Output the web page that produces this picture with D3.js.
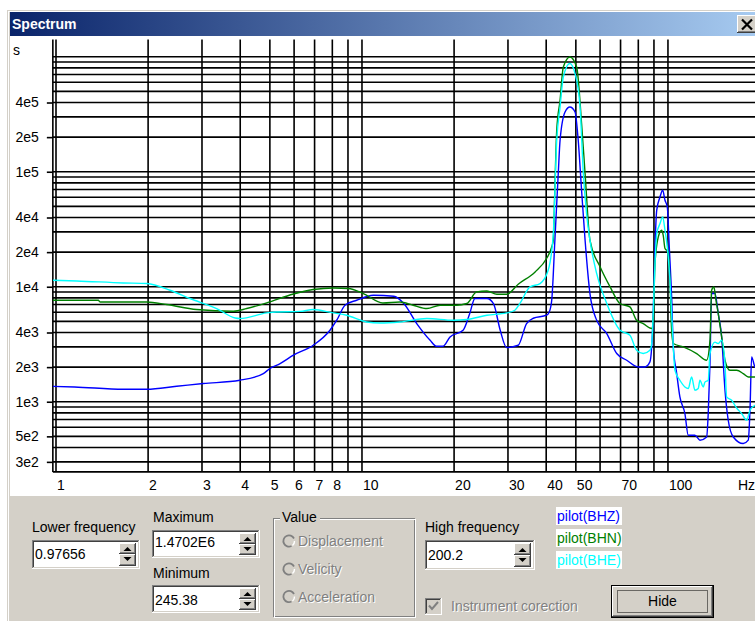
<!DOCTYPE html>
<html>
<head>
<meta charset="utf-8">
<script src="https://cdn.jsdelivr.net/npm/d3@7"></script>
<style>
  html, body { margin: 0; padding: 0; background: #fff; overflow: hidden; }
  svg { display: block; }
  text { font-family: "Liberation Sans", Arial, sans-serif; }
</style>
</head>
<body>
<svg id="win" width="755" height="621"></svg>
<script>
// ---- spectrum data: [frequency Hz, amplitude] per channel ----
const bhz = [[0.97656,1360],[1.15,1345],[1.66,1285],[1.98,1285],[2.48,1364],[3.03,1440],[3.99,1538],[4.76,1759],[5.0,1944],[5.4,2149],[5.97,2540],[6.93,3100],[7.86,4184],[8.27,5113],[8.8,6905],[9.61,7633],[10.9,8435],[12.7,8270],[13.7,7145],[15.1,4786],[16.7,3425],[17.5,3038],[18.4,3038],[19.4,3660],[21.4,4184],[22.5,5848],[23.4,7898],[25.6,7898],[26.9,7145],[28.3,4184],[29.7,2960],[32.4,3099],[34.5,4786],[36.3,5320],[40.1,5652],[40.9,6000],[41.7,7633],[42.7,25400],[43.8,96400],[44.4,188000],[46.1,331000],[47.8,366000],[49.7,331000],[50.9,188000],[52.2,69100],[53.6,25400],[55.6,8727],[58.5,5113],[63.1,3917],[68.0,2625],[73.3,2296],[80.0,2007],[84.1,2007],[87.3,2219],[89.5,5848],[90.7,22200],[91.9,46300],[94.2,60400],[96.1,69100],[97.8,56500],[99.5,49400],[101.0,22200],[102.8,8155],[104.1,2995],[106.8,1759],[109.4,1101],[113.6,790],[116.5,511],[122.5,511],[127.2,463],[133.8,494],[135.4,790],[137.2,2149],[138.9,8727],[142.4,8727],[146.0,5848],[149.8,3660],[153.6,1259],[157.4,690],[163.5,494],[176.2,433],[183.0,463],[185.4,844],[187.7,2452],[192.5,2007],[200.2,1900]];

const bhn = [[0.97656,7633],[1.375,7633],[1.393,7377],[1.98,7377],[2.30,7003],[2.88,6334],[3.80,6124],[4.20,6462],[4.88,7231],[5.97,8650],[6.93,9455],[8.06,9760],[9.02,9645],[10.1,8727],[11.7,7231],[13.3,7377],[14.7,6905],[16.3,6462],[18.0,6905],[20.4,6905],[22.0,7145],[23.7,9012],[25.6,9194],[27.6,8606],[29.7,8606],[32.4,10510],[36.8,13450],[40.1,17600],[41.7,22200],[42.2,25400],[42.7,73800],[43.3,230000],[44.4,418000],[45.5,815000],[47.8,996000],[50.3,815000],[52.2,263000],[53.6,96400],[55.6,25400],[60.0,14900],[64.7,9960],[69.7,7145],[75.1,6673],[79.0,5113],[83.0,4786],[88.5,4330],[89.5,5113],[90.7,15900],[93.0,27100],[95.4,31000],[96.5,28000],[97.8,21500],[100.2,20100],[101.5,11390],[102.8,4184],[104.1,3207],[112.2,2995],[124.1,2625],[133.8,2296],[137.2,3425],[138.9,9324],[141.3,9960],[143.5,7633],[146.0,5848],[149.8,3660],[153.6,2296],[159.4,1879],[167.7,1879],[176.2,1759],[183.0,1643],[192.5,1643],[200.2,1600]];

const bhe = [[0.97656,11390],[1.17,11230],[1.66,10790],[1.98,10660],[2.36,9324],[2.74,7898],[3.35,6462],[3.85,5354],[3.99,5300],[4.88,5919],[5.26,6038],[6.27,6100],[6.93,6334],[8.06,5919],[8.91,5652],[10.36,4942],[11.45,4844],[13.3,4942],[16.3,5290],[19.9,5113],[22.0,5185],[25.6,5652],[29.7,5919],[31.6,6246],[32.8,7145],[35.4,9960],[38.2,10660],[40.6,13900],[42.2,29000],[43.3,188000],[44.4,366000],[45.5,667000],[47.8,873000],[49.7,714000],[51.6,366000],[52.9,96400],[54.2,43300],[55.6,25400],[58.5,13000],[63.1,7145],[69.7,4184],[75.1,3786],[79.0,2804],[83.0,2625],[87.3,2804],[88.5,3207],[89.5,5848],[90.7,15900],[91.9,29000],[94.2,35400],[96.1,40500],[97.8,31000],[99.5,22200],[101.5,11390],[102.8,5848],[104.1,2995],[105.4,1879],[109.4,1538],[113.6,1345],[116.5,1302],[119.5,1643],[122.5,1259],[125.6,1302],[127.2,1538],[130.4,1345],[132.1,1480],[135.4,1538],[137.2,2625],[142.4,3300],[146.0,3207],[149.8,3425],[153.6,2149],[155.5,1101],[161.5,1030],[167.7,880],[174.1,790],[180.8,690],[185.4,844],[192.5,930],[200.2,950]];

const seriesNames = ["pilot(BHZ)", "pilot(BHN)", "pilot(BHE)"];
const seriesColors = ["#0000ff", "#008000", "#00ffff"];

// axis settings
const lowerFreq = 0.97656, highFreq = 200.2;
const ampMax = 1.4702e6, ampMin = 245.38;
const yTickValues = [4e5, 2e5, 1e5, 4e4, 2e4, 1e4, 4e3, 2e3, 1e3, 5e2, 3e2];
const yTickLabels = ["4e5", "2e5", "1e5", "4e4", "2e4", "1e4", "4e3", "2e3", "1e3", "5e2", "3e2"];
const xTickValues = [1, 2, 3, 4, 5, 6, 7, 8, 10, 20, 30, 40, 50, 70, 100];

// ---- window chrome helpers ----
const FACE = "#d4d0c8", SHADOW = "#808080", DARK = "#404040", HILITE = "#ffffff";
const svg = d3.select("#win");

function px(g, x, y, w, h, c) {
  g.append("rect").attr("x", x).attr("y", y).attr("width", w).attr("height", h).attr("fill", c);
}
function raised(g, x, y, w, h) {
  px(g, x, y, w, h, FACE);
  px(g, x, y, w, 1, HILITE); px(g, x, y, 1, h, HILITE);
  px(g, x, y + h - 1, w, 1, DARK); px(g, x + w - 1, y, 1, h, DARK);
  px(g, x + 1, y + h - 2, w - 2, 1, SHADOW); px(g, x + w - 2, y + 1, 1, h - 2, SHADOW);
}
function sunken(g, x, y, w, h, fill) {
  px(g, x, y, w, h, fill);
  px(g, x, y, w, 1, SHADOW); px(g, x, y, 1, h, SHADOW);
  px(g, x + 1, y + 1, w - 2, 1, DARK); px(g, x + 1, y + 1, 1, h - 2, DARK);
  px(g, x, y + h - 1, w, 1, HILITE); px(g, x + w - 1, y, 1, h, HILITE);
  px(g, x + 1, y + h - 2, w - 2, 1, FACE); px(g, x + w - 2, y + 1, 1, h - 2, FACE);
}
function spinner(g, x, y, w, h) {
  const hh = Math.floor(h / 2);
  raised(g, x, y, w, hh);
  raised(g, x, y + hh, w, h - hh);
  const cx = x + w / 2;
  g.append("path").attr("fill", "#000")
    .attr("d", `M${cx - 4},${y + hh - 3}L${cx + 4},${y + hh - 3}L${cx},${y + hh - 7}Z`);
  g.append("path").attr("fill", "#000")
    .attr("d", `M${cx - 4},${y + hh + 3}L${cx + 4},${y + hh + 3}L${cx},${y + hh + 7}Z`);
}
function label(g, str, x, y, color, anchor) {
  return g.append("text").attr("x", x).attr("y", y).attr("font-size", 14)
    .attr("fill", color || "#000").attr("text-anchor", anchor || "start").text(str);
}
function disabledLabel(g, str, x, y) {
  label(g, str, x + 1, y + 1, HILITE);
  label(g, str, x, y, SHADOW);
}
function editField(g, x, y, w, h, value, baseline) {
  sunken(g, x, y, w, h, "#fff");
  label(g, value, x + 3, baseline);
  spinner(g, x + w - 21, y + 3, 17, h - 6);
}

// ---- frame and title bar ----
px(svg, 7, 10, 748, 611, FACE);
px(svg, 8, 11, 747, 1, HILITE);
px(svg, 8, 11, 1, 610, HILITE);

const defs = svg.append("defs");
const grad = defs.append("linearGradient").attr("id", "titleGrad");
grad.append("stop").attr("offset", "0%").attr("stop-color", "#0a246a");
grad.append("stop").attr("offset", "100%").attr("stop-color", "#a6caf0");
svg.append("rect").attr("x", 10).attr("y", 12).attr("width", 745).attr("height", 24)
  .attr("fill", "url(#titleGrad)");
svg.append("text").attr("x", 12).attr("y", 28.5).attr("fill", "#fff")
  .attr("font-family", "'DejaVu Sans', Verdana, sans-serif").attr("font-weight", "bold")
  .attr("font-size", 14).text("Spectrum");

// close button
raised(svg, 737, 15, 20, 18);
svg.append("path").attr("stroke", "#000").attr("stroke-width", 2.2).attr("fill", "none")
  .attr("d", "M742,19.5L752,29.5M752,19.5L742,29.5");

// chart area
px(svg, 10, 36, 745, 460, "#fff");

// ---- chart ----
const plot = { left: 52.85, right: 760.2, top: 37.5, bottom: 471.9, gridTop: 39.5 };
const x = d3.scaleLog().domain([lowerFreq, highFreq]).range([plot.left, plot.right]);
const y = d3.scaleLog().domain([ampMin, ampMax]).range([plot.bottom, plot.top]);

const grid = svg.append("g").attr("stroke", "#000").attr("stroke-width", 1.6);
grid.selectAll("line.v").data(x.ticks()).join("line").attr("class", "v")
  .attr("x1", d => x(d)).attr("x2", d => x(d))
  .attr("y1", plot.gridTop).attr("y2", plot.bottom);
grid.selectAll("line.h").data(y.ticks()).join("line").attr("class", "h")
  .attr("x1", plot.left).attr("x2", 755)
  .attr("y1", d => y(d)).attr("y2", d => y(d));
// axis lines
grid.append("line").attr("x1", plot.left).attr("x2", plot.left)
  .attr("y1", plot.gridTop).attr("y2", plot.bottom);
grid.append("line").attr("x1", plot.left).attr("x2", 755)
  .attr("y1", plot.bottom).attr("y2", plot.bottom);

// y axis labels with short ticks
const yAxis = d3.axisLeft(y).tickValues(yTickValues)
  .tickFormat((d, i) => yTickLabels[i]).tickSize(6).tickPadding(8).tickSizeOuter(0);
const yg = svg.append("g").attr("transform", `translate(${plot.left},0)`).call(yAxis);
yg.select(".domain").remove();
yg.selectAll("line").attr("stroke", "#000").attr("stroke-width", 1.6);
yg.selectAll("text").attr("font-size", 14).attr("font-family", "'Liberation Sans', Arial, sans-serif")
  .attr("fill", "#000");

// x axis labels, left aligned on their grid line
const xAxis = d3.axisBottom(x).tickValues(xTickValues).tickFormat(d3.format("d"))
  .tickSize(0).tickPadding(8).tickSizeOuter(0);
const xg = svg.append("g").attr("transform", `translate(0,${plot.bottom})`).call(xAxis);
xg.select(".domain").remove();
xg.selectAll("text").attr("font-size", 14).attr("font-family", "'Liberation Sans', Arial, sans-serif")
  .attr("fill", "#000").attr("text-anchor", "start").attr("dx", 0.5);
label(svg, "Hz", 738, 490);
label(svg, "s", 13, 55);

// spectra
defs.append("clipPath").attr("id", "plotClip").append("rect")
  .attr("x", plot.left).attr("y", plot.top).attr("width", 755 - plot.left)
  .attr("height", plot.bottom - plot.top);
const line = d3.line().x(d => x(d[0])).y(d => y(d[1])).curve(d3.curveMonotoneX);
const curves = svg.append("g").attr("clip-path", "url(#plotClip)");
curves.selectAll("path").data([bhz, bhn, bhe]).join("path")
  .attr("d", line).attr("fill", "none")
  .attr("stroke", (d, i) => seriesColors[i]).attr("stroke-width", 1.4)
  .attr("stroke-linejoin", "round");

// ---- control panel ----
const panel = svg.append("g");
px(panel, 10, 496, 745, 125, FACE);

label(panel, "Lower frequency", 32, 532);
editField(panel, 32, 540, 108, 29, "0.97656", 559);

label(panel, "Maximum", 153, 522);
editField(panel, 152, 530, 108, 28, "1.4702E6", 547);
label(panel, "Minimum", 153, 578);
editField(panel, 152, 585, 108, 28, "245.38", 605);

// "Value" group box
const gb = panel.append("g");
gb.append("rect").attr("x", 273.5).attr("y", 518.5).attr("width", 141).attr("height", 98)
  .attr("fill", "none").attr("stroke", SHADOW);
gb.append("rect").attr("x", 274.5).attr("y", 519.5).attr("width", 141).attr("height", 98)
  .attr("fill", "none").attr("stroke", HILITE);
px(gb, 280, 512, 40, 12, FACE);
label(gb, "Value", 282, 522);
[["Displacement", 541], ["Velicity", 569], ["Acceleration", 596.5]].forEach(([t, cy]) => {
  // sunken, disabled radio button
  gb.append("circle").attr("cx", 289).attr("cy", cy).attr("r", 5.5).attr("fill", FACE);
  gb.append("path").attr("fill", "none").attr("stroke", SHADOW).attr("stroke-width", 1.8)
    .attr("d", `M${289 + 5},${cy - 2.5}A5.6,5.6 0 1 0 ${289 + 2.5},${cy + 5}`);
  gb.append("path").attr("fill", "none").attr("stroke", HILITE).attr("stroke-width", 1.4)
    .attr("d", `M${289 + 3.5},${cy + 4.5}A5.6,5.6 0 0 0 ${289 + 5.5},${cy}`);
  disabledLabel(gb, t, 298, cy + 5);
});

label(panel, "High frequency", 425, 532);
editField(panel, 425, 540, 110, 30, "200.2", 560);

// legend
seriesNames.forEach((n, i) => {
  const by = 507 + i * 22;
  px(panel, 556, by, 66, 18, "#fff");
  label(panel, n, 557, by + 14, seriesColors[i]);
});

// instrument correction checkbox (disabled, checked)
sunken(panel, 425, 598, 17, 17, FACE);
panel.append("path").attr("fill", "none").attr("stroke", SHADOW).attr("stroke-width", 2)
  .attr("d", "M429,605.5L432,609L438,602");
disabledLabel(panel, "Instrument corection", 451, 611);

// Hide button (default button with focus rectangle)
px(panel, 611, 585, 103, 33, "#000");
raised(panel, 612, 586, 101, 31);
panel.append("rect").attr("x", 617.5).attr("y", 590.5).attr("width", 90).attr("height", 22)
  .attr("fill", "none").attr("stroke", "#000").attr("stroke-dasharray", "1,1");
label(panel, "Hide", 662.5, 606, "#000", "middle");
</script>
</body>
</html>
